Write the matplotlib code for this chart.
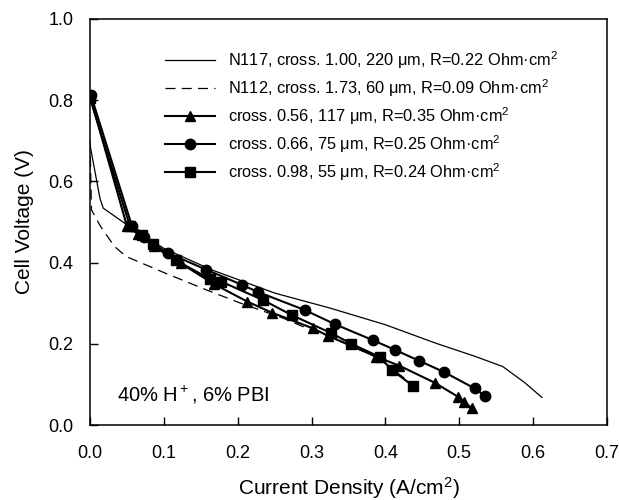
import matplotlib
matplotlib.use("Agg")
import matplotlib.pyplot as plt

plt.rcParams['font.family'] = ['Liberation Sans', 'DejaVu Sans']
plt.rcParams['mathtext.fontset'] = 'custom'
plt.rcParams['mathtext.rm'] = 'Liberation Sans'
plt.rcParams['mathtext.it'] = 'Liberation Sans:italic'

# N117 (thin solid line)
n117_x = [0.0, 0.0135, 0.018, 0.047, 0.10, 0.165, 0.25, 0.325, 0.40, 0.469, 0.52, 0.559, 0.589, 0.612]
n117_y = [0.69, 0.558, 0.534, 0.497, 0.435, 0.382, 0.325, 0.288, 0.247, 0.201, 0.170, 0.144, 0.104, 0.068]

# N112 (thin dashed line)
n112_x = [0.0, 0.002, 0.014, 0.033, 0.049, 0.102, 0.156, 0.204, 0.262, 0.294, 0.33, 0.39, 0.447]
n112_y = [0.70, 0.53, 0.49, 0.44, 0.415, 0.374, 0.334, 0.30, 0.263, 0.238, 0.215, 0.165, 0.086]

# cross. 0.56 (triangles)
tri_x = [0.0, 0.05, 0.065, 0.086, 0.123, 0.168, 0.213, 0.246, 0.302, 0.323, 0.388, 0.419, 0.467, 0.498, 0.507, 0.517]
tri_y = [0.81, 0.49, 0.47, 0.44, 0.398, 0.347, 0.304, 0.277, 0.238, 0.219, 0.168, 0.146, 0.104, 0.070, 0.057, 0.041]

# cross. 0.66 (circles)
cir_x = [0.001, 0.057, 0.073, 0.105, 0.157, 0.206, 0.227, 0.291, 0.332, 0.383, 0.413, 0.446, 0.48, 0.521, 0.535]
cir_y = [0.814, 0.489, 0.462, 0.424, 0.383, 0.345, 0.328, 0.283, 0.248, 0.209, 0.185, 0.158, 0.13, 0.09, 0.072]

# cross. 0.98 (squares)
sq_x = [0.0, 0.054, 0.07, 0.085, 0.116, 0.162, 0.178, 0.234, 0.273, 0.327, 0.354, 0.393, 0.409, 0.437]
sq_y = [0.805, 0.49, 0.468, 0.445, 0.406, 0.36, 0.353, 0.308, 0.271, 0.226, 0.20, 0.167, 0.135, 0.097]

labels = [
    'N117, cross. 1.00, 220 μm, R=0.22 Ohm·cm$\\mathregular{^2}$',
    'N112, cross. 1.73, 60 μm, R=0.09 Ohm·cm$\\mathregular{^2}$',
    'cross. 0.56, 117 μm, R=0.35 Ohm·cm$\\mathregular{^2}$',
    'cross. 0.66, 75 μm, R=0.25 Ohm·cm$\\mathregular{^2}$',
    'cross. 0.98, 55 μm, R=0.24 Ohm·cm$\\mathregular{^2}$',
]

fig = plt.figure(figsize=(6.19, 5.0), dpi=100)
ax = fig.add_axes([0.1454, 0.15, 0.835, 0.812])

ax.plot(n117_x, n117_y, color='black', lw=0.9, label=labels[0])
ax.plot(n112_x, n112_y, color='black', lw=0.9, dashes=(8, 5), label=labels[1])
ax.plot(tri_x, tri_y, color='black', lw=1.5, marker='^', ms=7.5, label=labels[2])
ax.plot(cir_x, cir_y, color='black', lw=1.5, marker='o', ms=7.5, label=labels[3])
ax.plot(sq_x, sq_y, color='black', lw=1.5, marker='s', ms=7, label=labels[4])

ax.set_xlim(0, 0.7)
ax.set_ylim(0, 1.0)
ax.set_xticks([0.0, 0.1, 0.2, 0.3, 0.4, 0.5, 0.6, 0.7])
ax.set_yticks([0.0, 0.2, 0.4, 0.6, 0.8, 1.0])
ax.set_xticklabels(['0.0', '0.1', '0.2', '0.3', '0.4', '0.5', '0.6', '0.7'])
ax.set_yticklabels(['0.0', '0.2', '0.4', '0.6', '0.8', '1.0'])
ax.tick_params(direction='in', length=6, width=1, labelsize=13)
ax.tick_params(axis='x', pad=14.5)
ax.tick_params(axis='y', pad=12)
for s in ax.spines.values():
    s.set_linewidth(1.1)

ax.set_xlabel('Current Density (A/cm$\\mathregular{^2}$)', fontsize=15, labelpad=9)
ax.set_ylabel('Cell Voltage (V)', fontsize=15, labelpad=10)

ax.text(0.037, 0.074, '40% H$\\mathregular{^+}$, 6% PBI', fontsize=14.5, va='center')

ax.legend(loc='upper left', bbox_to_anchor=(0.13, 0.945), frameon=False,
          fontsize=11.8, handlelength=3.0, labelspacing=0.38, handletextpad=0.8,
          borderpad=0)

fig.savefig('out.png', dpi=100)
